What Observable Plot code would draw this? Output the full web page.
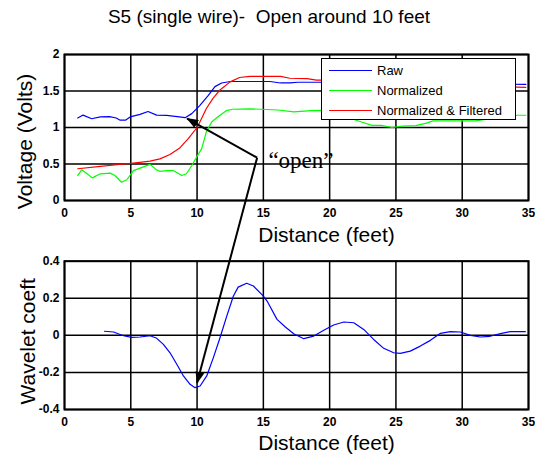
<!DOCTYPE html>
<html>
<head>
<meta charset="utf-8">
<script src="https://cdn.jsdelivr.net/npm/d3@7"></script>
<script src="https://cdn.jsdelivr.net/npm/@observablehq/plot@0.6"></script>
<style>
  body { margin: 0; background: #fff; font-family: "Liberation Sans", Arial, sans-serif; }
  #wrap { position: relative; width: 535px; height: 460px; overflow: hidden; }
  #title { position: absolute; left: 0; top: 6px; width: 538px; text-align: center; font-size: 19px; white-space: pre; color: #000; }
  #top { position: absolute; left: 0; top: 0; }
  #bottom { position: absolute; left: 0; top: 250px; }
  #legend { position: absolute; left: 321px; top: 58px; width: 195px; height: 62px; box-sizing: border-box;
            border: 1px solid #000; background: #fff; font-size: 13px; }
  .row { position: absolute; left: 0; height: 16px; width: 100%; }
  .sw { position: absolute; left: 7px; width: 43px; top: 7px; height: 0; border-top: 1.5px solid; }
  .lb { position: absolute; left: 55px; top: 0; line-height: 16px; white-space: pre; }
</style>
</head>
<body>
<div id="wrap">
  <div id="title"></div>
  <div id="top"></div>
  <div id="legend"></div>
  <div id="bottom"></div>
</div>
<script>
// ---------- data ----------
const titleText = "S5 (single wire)-  Open around 10 feet";
const xLabel = "Distance (feet)";
const yLabelTop = "Voltage (Volts)";
const yLabelBottom = "Wavelet coeft";

const xTicks = [0, 5, 10, 15, 20, 25, 30, 35];
const voltTicks = [0, 0.5, 1, 1.5, 2];
const coefTicks = [-0.4, -0.2, 0, 0.2, 0.4];

const seriesNames = ["Raw", "Normalized", "Normalized & Filtered"];
const seriesColors = ["#0000ff", "#00ff00", "#ff0000"];

const rawX = [1.0, 1.4, 2.05, 2.7, 3.4, 3.9, 4.2, 4.6, 4.95, 5.7, 6.3, 6.95, 7.7, 8.5, 9.1, 9.6, 10.2, 10.85, 11.35, 11.85, 12.5, 14, 15.5, 16.3, 17.0, 17.6, 19.1, 21, 24, 27, 30, 32, 34.8];
const rawY = [1.13, 1.17, 1.12, 1.145, 1.15, 1.13, 1.10, 1.10, 1.145, 1.18, 1.22, 1.17, 1.165, 1.15, 1.135, 1.19, 1.30, 1.44, 1.56, 1.61, 1.63, 1.63, 1.63, 1.61, 1.61, 1.62, 1.62, 1.62, 1.61, 1.60, 1.60, 1.595, 1.59];

const normX = [1.0, 1.3, 1.7, 2.1, 2.7, 3.44, 3.8, 4.3, 4.7, 5.2, 5.95, 6.45, 6.95, 7.2, 7.7, 8.2, 8.85, 9.2, 9.6, 9.97, 10.35, 10.7, 11.1, 11.6, 12.2, 12.7, 14, 14.8, 16.1, 17.3, 18.6, 19.4, 20.5, 21.5, 22.4, 23.2, 23.9, 24.7, 25.5, 26.5, 27.3, 27.8, 29, 30, 31, 32.5, 34.2, 34.8];
const normY = [0.343, 0.42, 0.366, 0.31, 0.366, 0.375, 0.343, 0.25, 0.284, 0.41, 0.46, 0.495, 0.42, 0.40, 0.41, 0.41, 0.343, 0.366, 0.48, 0.595, 0.71, 0.94, 1.076, 1.15, 1.23, 1.25, 1.255, 1.25, 1.24, 1.214, 1.23, 1.235, 1.2, 1.13, 1.076, 1.03, 1.03, 1.0, 1.02, 1.025, 1.06, 1.09, 1.09, 1.09, 1.09, 1.13, 1.168, 1.168];

const filtX = [1.0, 2.7, 3.95, 5.2, 6.45, 7.2, 7.95, 8.7, 9.35, 10.0, 10.25, 10.7, 11.2, 11.7, 12.5, 13.2, 14.0, 15.0, 16.3, 17.0, 18.3, 19.0, 19.5, 22, 25, 28, 31, 34.8];
const filtY = [0.435, 0.467, 0.49, 0.513, 0.54, 0.57, 0.63, 0.72, 0.85, 1.0, 1.09, 1.26, 1.40, 1.51, 1.625, 1.685, 1.70, 1.70, 1.70, 1.675, 1.67, 1.65, 1.65, 1.63, 1.61, 1.59, 1.57, 1.55];

const waveX = [3.02, 3.7, 4.45, 5.08, 5.7, 6.46, 6.96, 7.46, 7.96, 8.47, 8.97, 9.47, 9.85, 10.23, 10.73, 11.23, 11.73, 12.24, 12.74, 13.1, 13.74, 14.25, 15.0, 15.28, 16.03, 16.66, 17.29, 18.05, 18.8, 19.56, 20.3, 21.07, 21.82, 22.57, 23.32, 24.08, 24.83, 25.33, 26.08, 26.84, 27.6, 28.36, 29.1, 29.86, 30.62, 31.37, 32.1, 32.88, 33.63, 34.76];
const waveY = [0.022, 0.018, -0.002, -0.011, -0.009, -0.002, -0.016, -0.049, -0.094, -0.156, -0.219, -0.264, -0.282, -0.273, -0.219, -0.12, -0.013, 0.104, 0.212, 0.26, 0.281, 0.266, 0.212, 0.185, 0.086, 0.045, 0.009, -0.018, -0.004, 0.027, 0.056, 0.072, 0.068, 0.032, -0.022, -0.07, -0.094, -0.097, -0.085, -0.058, -0.027, 0.011, 0.02, 0.018, 0, -0.009, -0.005, 0.009, 0.02, 0.02];

// annotation: "open" label and arrows (data coordinates)
const openText = ["\u201copen\u201d"];
const openAt = [{x: 15.38, y: 0.54}];
const arrowTop = [{x1: 14.53, y1: 0.587, x2: 9.25, y2: 1.122}];      // in top-plot units
const arrowBottom = [{x1: 14.53, y1: 0.958, x2: 10.0, y2: -0.256}];  // in wavelet-plot units

// ---------- build ----------
const zip = (xs, ys) => xs.map((x, i) => ({x, y: ys[i]}));
const raw = zip(rawX, rawY), norm = zip(normX, normY), filt = zip(filtX, filtY), wave = zip(waveX, waveY);

document.getElementById("title").textContent = titleText;

function headMarker(color) {
  const m = d3.create("svg:marker")
    .attr("viewBox", "0 -4.5 12 9")
    .attr("markerWidth", 12).attr("markerHeight", 9)
    .attr("refX", 11).attr("refY", 0)
    .attr("orient", "auto")
    .attr("markerUnits", "userSpaceOnUse")
    .attr("fill", color).attr("stroke", "none");
  m.append("path").attr("d", "M0,-4.5L12,0L0,4.5Z");
  return m.node();
}

const font = "Liberation Sans, Arial, sans-serif";
const gridStyle = {stroke: "black", strokeOpacity: 1, strokeWidth: 1.5};
const commonStyle = {background: "transparent", overflow: "visible", fontFamily: font, color: "black"};
const tickOpts = {tickSize: 0, fontSize: 12, fontWeight: "bold", label: null, tickFormat: d => String(d), fill: "black"};

const topPlot = Plot.plot({
  width: 535, height: 250,
  marginTop: 54, marginBottom: 50, marginLeft: 64, marginRight: 7,
  style: commonStyle,
  x: {domain: [0, 35]},
  y: {domain: [0, 2]},
  marks: [
    Plot.gridX(xTicks, gridStyle),
    Plot.gridY(voltTicks, gridStyle),
    Plot.line(raw, {x: "x", y: "y", stroke: seriesColors[0], strokeWidth: 1.2}),
    Plot.line(norm, {x: "x", y: "y", stroke: seriesColors[1], strokeWidth: 1.2}),
    Plot.line(filt, {x: "x", y: "y", stroke: seriesColors[2], strokeWidth: 1.2}),
    Plot.frame({stroke: "black", strokeWidth: 2}),
    Plot.axisX(xTicks, {...tickOpts, tickPadding: 8}),
    Plot.axisY(voltTicks, {...tickOpts, tickPadding: 5}),
    Plot.text([xLabel], {frameAnchor: "bottom", lineAnchor: "middle", dx: 30, dy: 35, fontSize: 21, fill: "black"}),
    Plot.text([yLabelTop], {frameAnchor: "left", textAnchor: "middle", lineAnchor: "middle", rotate: -90, dx: -39, dy: 14, fontSize: 21, fill: "black"}),
    Plot.text(openAt, {x: "x", y: "y", text: () => openText[0], textAnchor: "start", fontSize: 23,
      fontFamily: "Liberation Serif, Times New Roman, serif", fill: "black"}),
    Plot.link(arrowTop, {x1: "x1", y1: "y1", x2: "x2", y2: "y2", stroke: "black", strokeWidth: 2, markerEnd: headMarker})
  ]
});
document.getElementById("top").append(topPlot);

const bottomPlot = Plot.plot({
  width: 535, height: 210,
  marginTop: 10.7, marginBottom: 51, marginLeft: 64, marginRight: 7,
  style: commonStyle,
  x: {domain: [0, 35]},
  y: {domain: [-0.4, 0.4]},
  marks: [
    Plot.gridX(xTicks, gridStyle),
    Plot.gridY(coefTicks, gridStyle),
    Plot.line(wave, {x: "x", y: "y", stroke: "#0000ff", strokeWidth: 1.2}),
    Plot.frame({stroke: "black", strokeWidth: 2}),
    Plot.axisX(xTicks, {...tickOpts, tickPadding: 8}),
    Plot.axisY(coefTicks, {...tickOpts, tickPadding: 5}),
    Plot.text([xLabel], {frameAnchor: "bottom", lineAnchor: "middle", dx: 30, dy: 34, fontSize: 21, fill: "black"}),
    Plot.text([yLabelBottom], {frameAnchor: "left", textAnchor: "middle", lineAnchor: "middle", rotate: -90, dx: -36, dy: 6, fontSize: 21, fill: "black"}),
    Plot.link(arrowBottom, {x1: "x1", y1: "y1", x2: "x2", y2: "y2", stroke: "black", strokeWidth: 2, markerEnd: headMarker})
  ]
});
document.getElementById("bottom").append(bottomPlot);

// make tick labels bold (as in the reference)
d3.selectAll("g[aria-label$='tick label'] text")
  .style("font-weight", "bold")
  .style("font-family", "'Liberation Sans', Arial, sans-serif");

// legend
const legend = d3.select("#legend");
seriesNames.forEach((name, i) => {
  const row = legend.append("div").attr("class", "row").style("top", (3.5 + i * 20) + "px");
  row.append("div").attr("class", "sw").style("border-top-color", seriesColors[i]);
  row.append("div").attr("class", "lb").text(name);
});
</script>
</body>
</html>
